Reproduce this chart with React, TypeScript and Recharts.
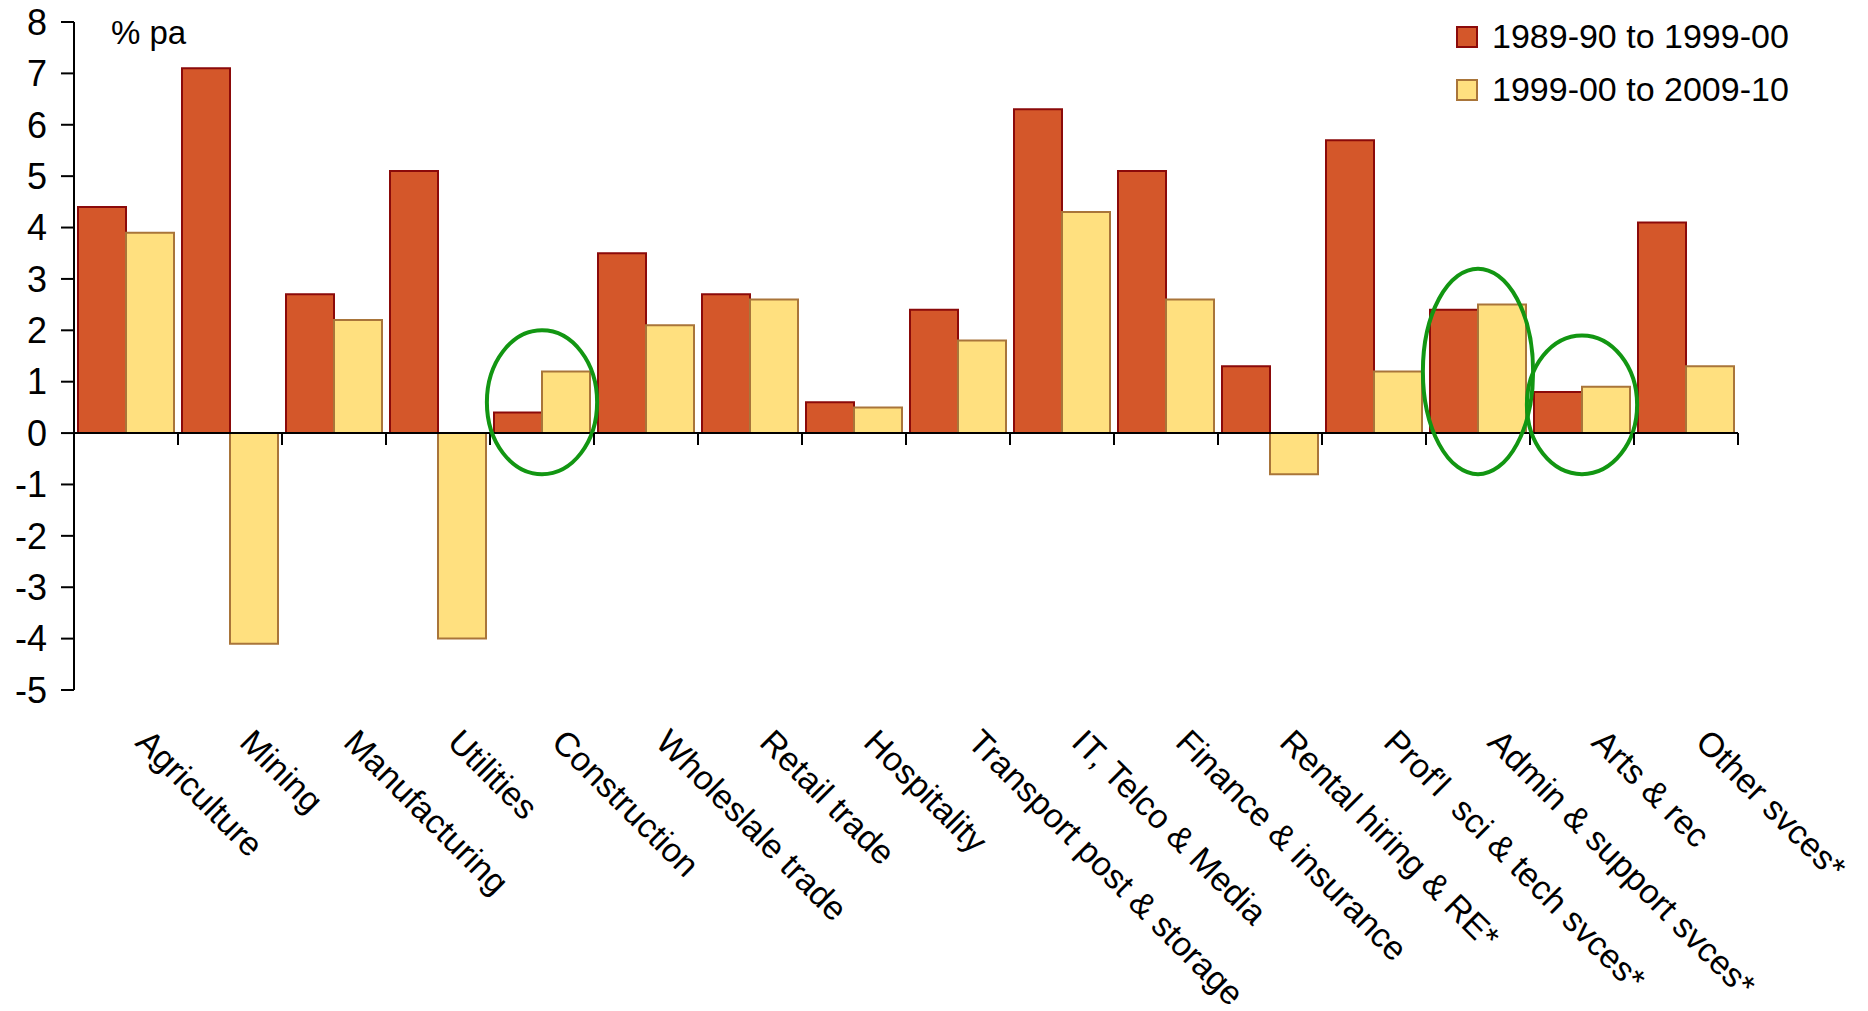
import React from 'react';
import { BarChart, Bar, XAxis, YAxis, ReferenceLine } from 'recharts';

const categories = [
    'Agriculture', 'Mining', 'Manufacturing', 'Utilities', 'Construction',
    'Wholeslale trade', 'Retail trade', 'Hospitality', 'Transport post & storage',
    'IT, Telco & Media', 'Finance & insurance', 'Rental hiring & RE*',
    "Prof'l  sci & tech svces*", 'Admin & support svces*', 'Arts & rec', 'Other svces*',
];
const growth1990s = [4.4, 7.1, 2.7, 5.1, 0.4, 3.5, 2.7, 0.6, 2.4, 6.3, 5.1, 1.3, 5.7, 2.4, 0.8, 4.1];
const growth2000s = [3.9, -4.1, 2.2, -4.0, 1.2, 2.1, 2.6, 0.5, 1.8, 4.3, 2.6, -0.8, 1.2, 2.5, 0.9, 1.3];
const yTicks = [-5, -4, -3, -2, -1, 0, 1, 2, 3, 4, 5, 6, 7, 8];
const seriesNames = ['1989-90 to 1999-00', '1999-00 to 2009-10'];
const seriesFill = ['#D4572A', '#FFE07F'];
const seriesStroke = ['#8B0A0A', '#A9753A'];
// circled categories: [index, top value, bottom value]
const circled = [[4, 2.0, -0.8], [13, 3.2, -0.8], [14, 1.9, -0.8]];

const data = categories.map((name, i) => ({ name, a: growth1990s[i], b: growth2000s[i] }));

const W = 1852;
const H = 1003;
const M = { top: 14, right: 122, left: 6, bottom: 0 };
const Y_W = 60;
const PLOT_H = 668;
const Y_MIN = -5;
const Y_MAX = 8;
const yOf = (v: number) => M.top + ((Y_MAX - v) / (Y_MAX - Y_MIN)) * PLOT_H;
const font = 'Liberation Sans, Arial, sans-serif';

const CategoryTick = ({ x, index, payload }: any) => {
    const band = (W - M.left - Y_W - M.right) / categories.length;
    const y0 = yOf(0);
    const bottom = yOf(Y_MIN);
    const ring = circled.find((c) => c[0] === index);
    const tx = x + 8;
    const ty = bottom + 54;
    return (
        <g>
            <line x1={x - band / 2} x2={x - band / 2} y1={y0} y2={y0 + 12} stroke="#000" strokeWidth={2} />
            {index === categories.length - 1 && (
                <line x1={x + band / 2} x2={x + band / 2} y1={y0} y2={y0 + 12} stroke="#000" strokeWidth={2} />
            )}
            {ring && (
                <ellipse
                    cx={x}
                    cy={(yOf(ring[1]) + yOf(ring[2])) / 2}
                    rx={band * 0.53}
                    ry={(yOf(ring[2]) - yOf(ring[1])) / 2}
                    fill="none"
                    stroke="#129612"
                    strokeWidth={4}
                />
            )}
            <text
                x={tx}
                y={ty}
                transform={`rotate(45, ${tx}, ${ty})`}
                textAnchor="start"
                fontSize={34}
                fontFamily={font}
                fill="#000"
                style={{ whiteSpace: 'pre' }}
            >
                {payload.value}
            </text>
        </g>
    );
};

export default function App() {
    return (
        <div style={{ position: 'relative', width: W, height: H }}>
            <BarChart width={W} height={H} data={data} margin={M} barCategoryGap={4} barGap={0}>
                <XAxis
                    dataKey="name"
                    height={H - M.top - PLOT_H}
                    axisLine={false}
                    tickLine={false}
                    interval={0}
                    tick={<CategoryTick />}
                />
                <YAxis
                    width={Y_W}
                    domain={[Y_MIN, Y_MAX]}
                    ticks={yTicks}
                    interval={0}
                    tickSize={13}
                    axisLine={{ stroke: '#000', strokeWidth: 2 }}
                    tickLine={{ stroke: '#000', strokeWidth: 2 }}
                    tick={{ fill: '#000', fontSize: 36, fontFamily: font, dx: -12 }}
                />
                <Bar dataKey="a" name={seriesNames[0]} fill={seriesFill[0]} stroke={seriesStroke[0]} strokeWidth={2} isAnimationActive={false} />
                <Bar dataKey="b" name={seriesNames[1]} fill={seriesFill[1]} stroke={seriesStroke[1]} strokeWidth={2} isAnimationActive={false} />
                <ReferenceLine y={0} stroke="#000" strokeWidth={2} />
            </BarChart>
            <div style={{ position: 'absolute', left: 103, top: 6, fontFamily: font, fontSize: 33 }}>% pa</div>
            <div style={{ position: 'absolute', left: 1448, top: 2, fontFamily: font, fontSize: 34 }}>
                {seriesNames.map((n, i) => (
                    <div key={n} style={{ display: 'flex', alignItems: 'center', height: 53 }}>
                        <span
                            style={{
                                width: 18, height: 18, background: seriesFill[i], marginRight: 14,
                                border: `2px solid ${seriesStroke[i]}`,
                            }}
                        />
                        {n}
                    </div>
                ))}
            </div>
        </div>
    );
}
